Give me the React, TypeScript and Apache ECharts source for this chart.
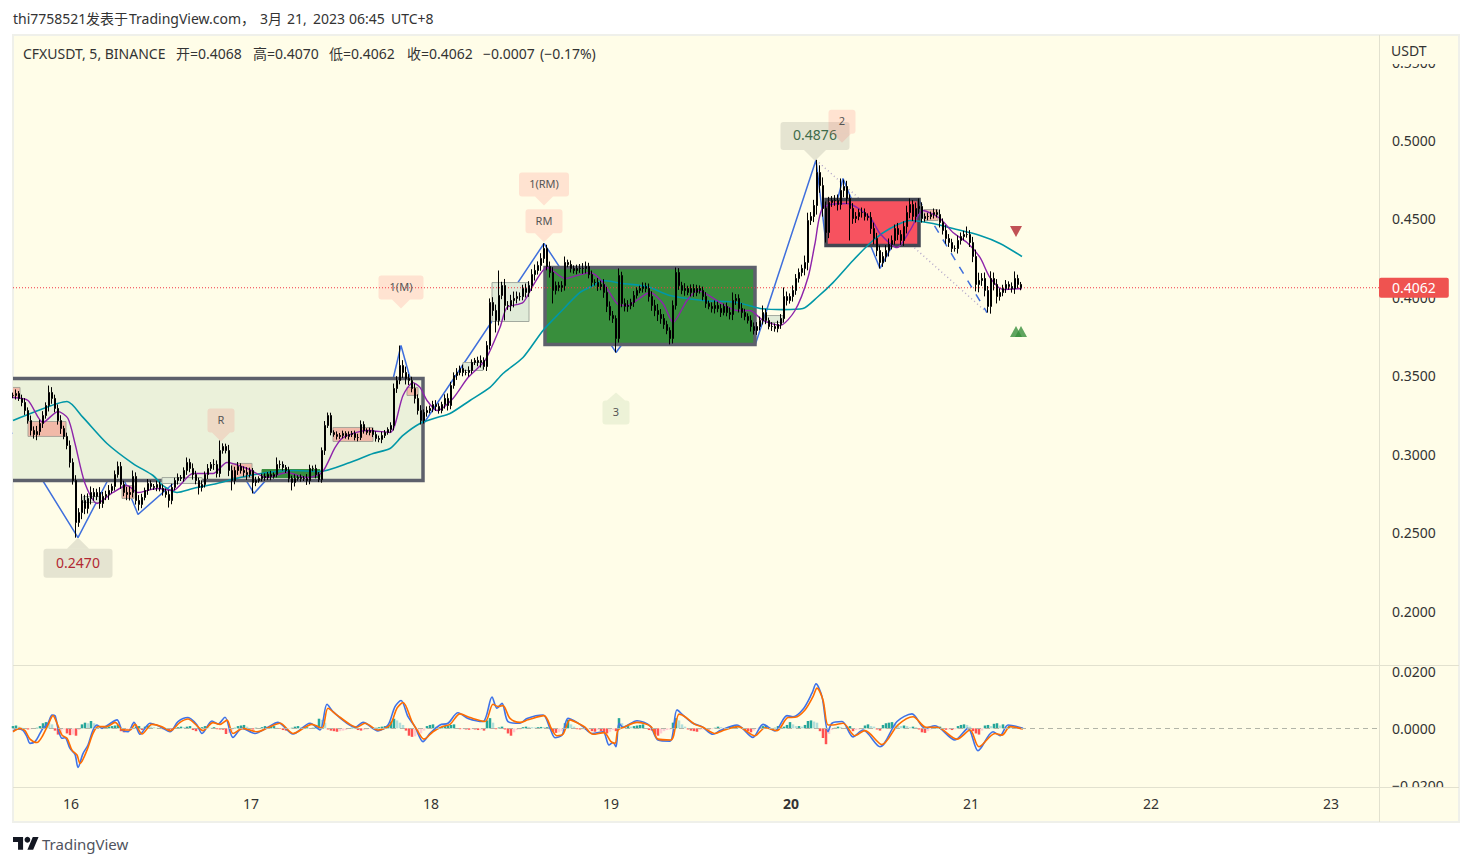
import React, { useEffect, useRef } from "react";
import * as echarts from "echarts";

// time axis: t counts 8-minute steps from the left edge of the chart
const dayTicks = [58, 238, 418, 598, 778, 958, 1138, 1318];
const dayLabels = ["16", "17", "18", "19", "20", "21", "22", "23"];
const priceTicks = [0.2, 0.25, 0.3, 0.35, 0.4, 0.45, 0.5, 0.55];
const macdTicks = [-0.02, 0, 0.02];
const lastPrice = 0.4062;
const lastPriceLine = [[0,4062],[1366,4062]];

// closes in 1/10000 USDT, one every 3 time steps
const closes = [
  3376,3388,3357,3331,3280,3216,3153,3127,3146,3197,
  3248,3312,3395,3357,3293,3216,3165,3115,3057,2949,
  2834,2567,2630,2707,2656,2720,2758,2733,2758,2688,
  2733,2745,2771,2796,2872,2924,2809,2758,2745,2758,
  2860,2707,2682,2726,2771,2815,2796,2790,2809,2783,
  2764,2745,2707,2790,2834,2853,2847,2898,2949,2911,
  2872,2834,2790,2809,2872,2911,2936,2936,2879,3025,
  3051,3025,2898,2834,2898,2924,2898,2885,2872,2898,
  2822,2834,2847,2860,2853,2872,2860,2872,2936,2936,
  2917,2898,2847,2822,2847,2853,2847,2847,2834,2911,
  2911,2872,2840,3025,3185,3248,3140,3127,3115,3121,
  3134,3115,3127,3134,3108,3108,3191,3153,3140,3153,
  3127,3102,3096,3121,3140,3159,3185,3420,3471,3567,
  3522,3484,3471,3420,3357,3280,3217,3267,3280,3293,
  3318,3306,3280,3318,3357,3312,3439,3503,3522,3548,
  3522,3522,3535,3586,3599,3586,3599,3560,3694,3968,
  3917,3854,4013,4076,3949,3949,3981,3994,4006,4006,
  4057,4032,4076,4146,4172,4204,4248,4312,4197,4159,
  4045,4076,4064,4076,4223,4210,4185,4172,4185,4185,
  4185,4197,4146,4096,4096,4070,4083,4032,3943,3886,
  3866,3739,4140,3962,3943,3949,3968,4013,4045,4057,
  4070,4057,4006,3949,3917,3892,3866,3828,3790,3739,
  3949,4159,4076,4045,4057,4032,4057,4032,4057,4045,
  4006,3962,3943,3930,3949,3930,3904,3943,3904,3892,
  3981,3994,3930,3904,3879,3854,3815,3790,3815,3854,
  3904,3854,3815,3815,3802,3828,3866,4006,3981,4006,
  4045,4121,4159,4185,4223,4490,4516,4586,4796,4713,
  4567,4414,4605,4618,4618,4592,4682,4707,4631,4567,
  4503,4516,4541,4541,4516,4510,4439,4376,4299,4223,
  4261,4299,4338,4363,4439,4401,4363,4452,4541,4592,
  4516,4567,4580,4503,4516,4516,4529,4541,4529,4478,
  4427,4376,4350,4312,4312,4363,4388,4401,4401,4350,
  4261,4083,4108,4121,4045,3943,4121,4083,4006,4032,
  4057,4083,4070,4057,4121,4083,4062,
];
const wicks = [
  18,26,16,24,28,20,32,26,36,24,
  28,20,38,34,24,26,34,18,24,32,
  26,34,28,42,36,32,38,28,24,34,
  28,24,34,18,26,20,28,24,36,38,
  32,26,34,24,18,28,20,16,24,18,
  26,20,28,24,18,26,16,20,28,24,
  32,24,18,26,20,28,16,34,26,24,
  20,18,36,32,24,28,20,26,34,18,
  16,24,14,18,20,16,24,14,18,26,
  20,16,24,18,26,14,20,16,28,24,
  18,24,16,20,28,16,18,14,20,16,
  18,14,20,16,18,24,16,20,14,18,
  16,20,18,24,16,14,20,32,28,24,
  34,38,28,24,32,26,34,20,26,18,
  24,28,20,18,26,32,24,20,28,18,
  24,18,26,20,16,24,32,20,28,26,
  34,38,32,24,42,28,36,44,32,26,
  24,32,28,34,38,26,34,28,24,32,
  34,26,24,28,32,18,26,20,24,28,
  34,32,24,26,20,28,24,34,36,32,
  28,20,26,24,32,34,24,28,20,18,
  26,24,32,34,36,42,34,28,24,20,
  32,26,28,24,34,18,26,28,24,20,
  24,28,18,26,32,24,28,18,24,32,
  36,28,26,34,24,20,32,26,28,24,
  26,24,18,28,20,24,28,26,32,20,
  32,28,26,24,44,50,28,36,58,46,
  52,44,36,28,34,38,32,44,36,26,
  34,28,24,32,26,20,34,38,36,32,
  28,34,38,32,26,36,28,34,44,36,
  28,38,34,26,20,24,18,26,20,32,
  26,34,28,24,20,32,26,24,20,28,
  36,44,50,34,38,28,46,38,34,26,
  24,28,20,26,34,24,16,
];
const highSpikes = [
  [12,3439],[35,2955],[40,2898],[58,2981],[69,3089],[88,2981],[105,3267],[116,3217],
  [129,3694],[162,4172],[177,4345],[184,4261],[202,4185],[221,4191],[240,4032],[250,3949],
  [257,4064],[268,4876],[276,4758],[299,4631],[302,4631],[318,4452],[334,4166],
];
const lowSpikes = [
  [21,2470],[42,2643],[52,2662],[62,2745],[73,2771],[80,2752],[93,2771],[136,3191],
  [161,3777],[164,3854],[180,3962],[201,3650],[219,3701],[271,4350],[279,4363],[289,4185],
  [325,3904],[328,3962],
];

const tealLine = [
  [0,3216],[20,3267],[54,3337],[70,3236],[94,3070],[120,2942],[140,2866],[150,2802],[164,2758],[180,2783],
  [204,2815],[227,2853],[254,2885],[280,2898],[307,2892],[337,2949],[360,3006],[377,3038],[390,3121],[407,3197],
  [424,3235],[437,3261],[457,3344],[477,3427],[490,3516],[510,3618],[530,3790],[547,3904],[567,4032],[580,4076],
  [590,4108],[610,4089],[634,4070],[657,4013],[690,3981],[724,3968],[747,3930],[770,3923],[790,3930],[804,4000],
  [820,4095],[840,4236],[860,4363],[877,4439],[897,4490],[920,4471],[940,4439],[967,4395],[987,4344],[1009,4261],
];
const purpleLine = [
  [0,3363],[15,3344],[30,3204],[45,3274],[55,3229],[62,3070],[72,2815],[84,2688],[100,2758],[114,2802],
  [125,2758],[144,2783],[160,2771],[180,2879],[200,2879],[214,2949],[234,2911],[254,2853],[274,2885],[294,2853],
  [309,2885],[322,3044],[330,3108],[354,3153],[377,3140],[390,3376],[400,3458],[407,3427],[414,3344],[424,3280],
  [440,3357],[455,3490],[472,3599],[487,3809],[494,3936],[510,3968],[520,4076],[534,4191],[552,4121],[564,4140],
  [577,4159],[590,4096],[604,3962],[614,3949],[637,4032],[650,3962],[660,3841],[674,3981],[685,4045],[707,3968],
  [724,3917],[737,3917],[750,3854],[767,3822],[782,3917],[795,4127],[802,4344],[810,4573],[834,4599],[857,4510],
  [867,4408],[884,4318],[897,4427],[910,4554],[927,4503],[940,4414],[954,4350],[967,4255],[977,4127],[990,4051],[1009,4057],
];
const zigzagLine = [
  [0,3140],[65,2470],[104,2949],[125,2618],[209,3089],[241,2752],[314,3267],[365,3076],[388,3694],[410,3191],
  [531,4344],[603,3650],[663,4172],[742,3694],[803,4876],[813,4344],[830,4758],[867,4185],[905,4631],
];
const dashedLeg = [[905,4631],[974,3904]];
const dottedLeg = [[803,4876],[974,3904]];

// t start, t end, top price, bottom price, kind
const bigBoxes = [[-8,410,3484,2834,0],[532,742,4191,3701,1],[813,906,4624,4331,2]];
const paleRedBoxes = [
  [-8,7,3427,3363,3],[15,53,3210,3115,3],[109,121,2802,2720,3],[219,239,2943,2853,3],
  [320,360,3172,3083,3],[394,405,3427,3376,3],[911,925,4560,4490,3],
];
const paleGreenBoxes = [
  [70,87,2732,2694,4],[149,189,2853,2815,4],[479,516,4095,3847,4],[450,470,3586,3535,4],[752,770,3885,3841,4],
];
const solidGreenBoxes = [[249,307,2904,2853,5]];

const calloutTexts = ["0.4876", "2", "0.2470", "R", "RM", "1(RM)", "1(M)", "3"];
// t, price at the tip, index of the text and of the look
const callouts = [[802,4870,0,0],[829,4985,1,2],[65,2470,2,1],[208,3083,3,2],[531,4352,4,2],[531,4586,5,2],[388,3930,6,2],[603,3395,7,3]];

const sellSignals = [[1003,4420]];
const buySignals = [[1003,3783],[1008,3783]];

const macdBlue = [
  [0,-9],[5,-2],[10,-7],[14,-30],[17,-53],[22,-47],[27,-18],[30,0],[35,18],[39,47],[42,45],[45,0],[49,-35],[52,-33],[57,-71],[62,-92],[65,-138],[70,-89],[75,-59],[80,-6],
  [84,12],[89,0],[95,12],[104,30],[109,-6],[115,-12],[121,21],[127,-21],[137,18],[147,6],[157,-12],[165,24],[175,38],[184,12],[189,-18],[199,26],[205,15],[212,39],[220,-32],[229,0],
  [242,-18],[254,2],[265,21],[280,-20],[297,18],[307,-6],[314,85],[320,59],[334,18],[342,4],[350,21],[365,-9],[375,12],[382,77],[388,98],[395,41],[402,6],[410,-47],[417,-18],[427,12],
  [435,18],[445,55],[455,35],[470,24],[479,110],[484,71],[489,88],[495,24],[507,18],[514,35],[530,47],[537,0],[542,-33],[549,-24],[555,35],[564,21],[570,6],[579,-18],[590,-12],[596,-59],
  [600,-50],[603,-65],[606,18],[610,4],[624,27],[637,9],[645,-41],[657,-45],[664,65],[670,47],[680,18],[689,6],[700,-21],[707,-8],[724,12],[740,-32],[750,14],[762,-9],[774,45],[780,41],
  [790,67],[799,124],[803,157],[809,112],[815,-12],[819,18],[829,24],[840,-30],[850,-6],[867,-65],[884,24],[899,51],[912,0],[922,9],[942,-41],[955,0],[965,-79],[980,-12],[987,-26],[995,12],[1010,0],
];
const macdOrange = [
  [0,-12],[7,0],[12,-8],[17,-38],[24,-50],[29,-30],[35,12],[40,45],[44,18],[49,-24],[54,-35],[59,-77],[64,-94],[67,-124],[74,-77],[80,-18],[85,6],[94,6],[102,21],[110,-6],
  [117,-6],[122,14],[129,-20],[139,14],[149,6],[157,-9],[167,21],[175,33],[184,9],[190,-8],[200,20],[207,14],[214,29],[220,-18],[230,0],[244,-12],[255,2],[267,18],[280,-18],[299,14],
  [309,0],[315,71],[324,47],[337,14],[344,4],[352,18],[365,-6],[377,12],[384,71],[390,91],[399,24],[404,-6],[411,-38],[420,-12],[429,6],[437,14],[447,51],[457,38],[472,24],[480,85],
  [485,77],[490,80],[497,35],[507,21],[515,30],[531,45],[539,-6],[544,-26],[550,-21],[557,30],[565,18],[572,4],[580,-21],[591,-15],[598,-47],[602,-53],[605,-6],[611,4],[624,21],[638,6],
  [645,-38],[658,-41],[666,50],[672,41],[682,14],[690,4],[702,-18],[709,-9],[725,6],[742,-26],[752,2],[764,-8],[775,38],[782,39],[792,65],[800,112],[804,142],[810,100],[815,12],[820,12],
  [830,18],[842,-26],[852,-8],[869,-57],[885,12],[900,41],[913,4],[924,4],[944,-38],[957,-6],[966,-65],[982,-18],[989,-24],[997,6],[1010,-2],
];
// histogram in 1/10000, one every 3 time steps
const macdHist = [
  8,10,6,2,-2,-4,-3,-1,2,8,
  18,22,20,14,-8,-22,-20,-4,-18,-24,
  -22,-26,-6,14,20,18,26,18,10,4,
  -1,4,6,8,10,12,-10,-14,-12,-8,
  -3,6,8,-6,6,10,6,4,2,1,
  -3,-4,-6,-8,-2,4,6,4,6,8,
  -6,-10,-6,4,8,6,2,4,-3,-4,
  -5,-20,-16,-8,2,8,10,12,6,-2,
  -4,2,-2,4,8,4,6,8,2,-2,
  -6,-8,-3,2,6,8,4,2,4,-2,
  2,12,34,30,20,-4,-8,-10,-12,-10,
  -8,-6,-2,2,4,-6,-8,-6,-4,-2,
  2,2,4,6,8,10,24,34,28,20,
  12,-8,-26,-30,-28,-22,-18,-8,8,12,
  14,6,-2,4,8,10,12,14,-2,-3,
  -3,-4,-5,-3,-4,-6,-5,-8,28,36,
  20,-3,3,6,-4,-18,-26,-14,-6,-4,
  4,6,5,4,3,4,5,4,4,5,
  -12,-16,-14,-10,18,30,14,6,-3,-4,
  -3,-5,-4,-10,-12,-6,-10,-14,-18,-12,
  -6,-10,36,18,8,8,6,8,10,12,
  14,-2,-6,-8,-22,-26,-18,-10,-6,-4,
  20,36,28,14,6,-4,-8,-10,-12,-6,
  -4,-2,-4,-3,2,6,4,-2,2,6,
  8,10,6,2,-6,-10,-14,-8,-2,4,
  8,12,4,-2,2,8,4,6,12,22,
  14,8,8,6,12,26,28,24,20,-10,
  -34,-56,-20,-6,2,6,4,-2,4,8,
  -10,-6,-4,-2,10,14,8,6,-4,-8,
  12,18,20,22,16,10,8,10,8,4,
  6,4,-4,-14,-16,-10,-4,2,4,6,
  -3,-5,-4,-6,-3,8,12,14,12,6,
  -10,-18,-22,-8,10,12,8,16,18,10,
  14,6,8,4,6,-2,-3,
];

const FONT = '"Noto Sans","Noto Sans CJK SC",sans-serif';
const INK = "#333333";
const PANEL = "#fffde8";
const EDGE = "#e2e1cf";

const boxLooks = [
  { fill: "#ebf1da", stroke: "#5d606b", lineWidth: 3.5 },
  { fill: "#388e3c", stroke: "#5d606b", lineWidth: 3.5 },
  { fill: "#f7525f", stroke: "#434651", lineWidth: 3.5 },
  { fill: "#f1b9a8", stroke: "#a8a59a", lineWidth: 1 },
  { fill: "#e0ebd8", stroke: "#a3aa9f", lineWidth: 1 },
  { fill: "#388e3c", stroke: "#388e3c", lineWidth: 1 },
];
const calloutLooks = [
  { w: 69, h: 28, gap: 11, dir: -1, fill: "rgba(208,208,190,0.55)", color: "#3e6b4a", size: 14, pw: 11 },
  { w: 69, h: 29, gap: 11, dir: 1, fill: "rgba(208,208,190,0.55)", color: "#b22833", size: 14, pw: 11 },
  { w: 27, h: 24, gap: 9, dir: -1, fill: "rgba(255,82,82,0.15)", color: "#555555", size: 11, pw: 9 },
  { w: 27, h: 24, gap: 8, dir: 1, fill: "rgba(76,150,70,0.1)", color: "#555555", size: 11, pw: 9 },
];
const calloutWidths: Record<string, number> = { "RM": 37, "1(RM)": 50, "1(M)": 45 };

const px = (rows: number[][]) => rows.map((r) => [r[0], r[1] / 10000]);

function buildCandles() {
  const hi = new Map(highSpikes.map((s) => [s[0], s[1]]));
  const lo = new Map(lowSpikes.map((s) => [s[0], s[1]]));
  return closes.map((c, i) => {
    const o = i === 0 ? c : closes[i - 1];
    const w = wicks[i] ?? 18;
    const h = hi.get(i) ?? Math.max(o, c) + w;
    const l = lo.get(i) ?? Math.min(o, c) - w;
    return [i * 3, o / 10000, c / 10000, l / 10000, h / 10000];
  });
}

function histData() {
  return macdHist.map((v, i) => {
    const prev = i === 0 ? 0 : macdHist[i - 1];
    const rising = v >= prev;
    const color = v >= 0 ? (rising ? "#26a69a" : "#b2dfdb") : rising ? "#ffcdd2" : "#ff5252";
    return { value: [i * 3, v / 10000], itemStyle: { color } };
  });
}

function renderBox(_p: any, api: any) {
  const a = api.coord([api.value(0), api.value(2) / 10000]);
  const b = api.coord([api.value(1), api.value(3) / 10000]);
  const look = boxLooks[api.value(4)];
  return { type: "rect", shape: { x: a[0], y: a[1], width: b[0] - a[0], height: b[1] - a[1] }, style: { ...look } };
}

function renderCallout(_p: any, api: any) {
  const tip = api.coord([api.value(0), api.value(1) / 10000]);
  const text = calloutTexts[api.value(2)];
  const look = calloutLooks[api.value(3)];
  const w = calloutWidths[text] ?? look.w;
  const edge = tip[1] + look.dir * look.gap;
  const top = look.dir > 0 ? edge : edge - look.h;
  return {
    type: "group",
    children: [
      { type: "polygon", shape: { points: [[tip[0], tip[1]], [tip[0] - look.pw, edge], [tip[0] + look.pw, edge]] }, style: { fill: look.fill } },
      { type: "rect", shape: { x: tip[0] - w / 2, y: top, width: w, height: look.h, r: 3 }, style: { fill: look.fill } },
      { type: "text", style: { x: tip[0], y: top + look.h / 2 - 1, text, fill: look.color, fontSize: look.size, fontFamily: FONT, align: "center", verticalAlign: "middle" } },
    ],
  };
}

const lineBase = { type: "line", showSymbol: false, symbol: "none", silent: true, xAxisIndex: 0, yAxisIndex: 0 };
const customBase = { type: "custom", silent: true, clip: true, xAxisIndex: 0, yAxisIndex: 0 };
const boxEncode = { x: [0, 1], y: [2, 3] };

function buildOption() {
  const text = (x: number, y: number, t: string, size = 14, fill = INK) => ({
    type: "text", x, y, z: 60, silent: true,
    style: { text: t, fill, fontSize: size, fontFamily: FONT, verticalAlign: "middle" },
  });
  return {
    animation: false,
    backgroundColor: "#ffffff",
    grid: [
      { left: 13, top: 35, width: 1366, height: 630 },
      { left: 13, top: 666, width: 1366, height: 121 },
    ],
    xAxis: [
      { type: "value", gridIndex: 0, min: 0, max: 1366, show: false },
      {
        type: "value", gridIndex: 1, min: 0, max: 1366, splitLine: { show: false },
        axisLine: { show: false }, axisTick: { show: false },
        axisLabel: {
          customValues: dayTicks, margin: 9, color: INK, fontSize: 14, fontFamily: FONT,
          formatter: (v: number) => {
            const s = dayLabels[dayTicks.indexOf(v)];
            return s === "20" ? "{b|" + s + "}" : s;
          },
          rich: { b: { fontWeight: "bold", color: INK, fontSize: 14, fontFamily: FONT } },
        },
      },
    ],
    yAxis: [
      {
        type: "value", gridIndex: 0, position: "right", min: 0.1659, max: 0.5672, splitLine: { show: false },
        axisLine: { show: false }, axisTick: { show: false },
        axisLabel: { customValues: priceTicks, margin: 13, color: INK, fontSize: 14, fontFamily: FONT, formatter: (v: number) => v.toFixed(4) },
      },
      {
        type: "value", gridIndex: 1, position: "right", min: -0.0207, max: 0.022, splitLine: { show: false },
        axisLine: { show: false }, axisTick: { show: false },
        axisLabel: { customValues: macdTicks, margin: 13, color: INK, fontSize: 14, fontFamily: FONT, formatter: (v: number) => (v < 0 ? "\u2212" + (-v).toFixed(4) : v.toFixed(4)) },
      },
    ],
    series: [
      { ...lineBase, z: 1, data: px(zigzagLine), lineStyle: { color: "#3f6fdc", width: 1.5 } },
      { ...lineBase, z: 1, data: px(dottedLeg), lineStyle: { color: "#b3a7c9", width: 1.5, type: [1, 3] } },
      { ...lineBase, z: 1, data: px(dashedLeg), lineStyle: { color: "#3f6fdc", width: 1.5, type: [8, 8] } },
      { ...customBase, z: 2, renderItem: renderBox, encode: boxEncode, data: [...bigBoxes, ...paleRedBoxes, ...paleGreenBoxes, ...solidGreenBoxes] },
      { ...lineBase, z: 3, smooth: 0.25, data: px(tealLine), lineStyle: { color: "#0097a7", width: 1.6 } },
      { ...lineBase, z: 3, smooth: 0.25, data: px(purpleLine), lineStyle: { color: "#8e24aa", width: 1.4 } },
      {
        ...lineBase, z: 3, data: px(lastPriceLine),
        lineStyle: { color: "#f23645", type: [1, 2], width: 1 },
        endLabel: {
          show: true, distance: 0, formatter: () => lastPrice.toFixed(4), color: "#fff", fontSize: 14, fontFamily: FONT,
          backgroundColor: "#ef5350", padding: [3, 13, 3, 13], borderRadius: 2,
        },
      },
      {
        type: "candlestick", z: 4, silent: true, xAxisIndex: 0, yAxisIndex: 0, barWidth: 1.5,
        itemStyle: { color: "#000", color0: "#000", borderColor: "#000", borderColor0: "#000", borderWidth: 1 },
        encode: { x: 0, y: [1, 2, 3, 4] },
        data: buildCandles(),
      },
      { ...customBase, z: 5, renderItem: renderCallout, encode: { x: 0, y: 1 }, data: callouts },
      {
        type: "scatter", z: 5, silent: true, xAxisIndex: 0, yAxisIndex: 0, symbol: "triangle", symbolSize: [12, 11], symbolRotate: 180,
        itemStyle: { color: "#b2252f" }, data: px(sellSignals),
      },
      {
        type: "scatter", z: 5, silent: true, xAxisIndex: 0, yAxisIndex: 0, symbol: "triangle", symbolSize: [12, 11],
        itemStyle: { color: "#388e3c" }, data: px(buySignals),
      },
      {
        type: "bar", z: 2, silent: true, xAxisIndex: 1, yAxisIndex: 1, barWidth: 2.5, data: histData(),
        markLine: { silent: true, symbol: "none", label: { show: false }, lineStyle: { color: "#b2b5a8", type: [5, 4], width: 1 }, data: [{ yAxis: 0 }] },
      },
      { ...lineBase, z: 3, smooth: 0.3, xAxisIndex: 1, yAxisIndex: 1, data: px(macdBlue), lineStyle: { color: "#3f73e8", width: 1.6 } },
      { ...lineBase, z: 3, smooth: 0.3, xAxisIndex: 1, yAxisIndex: 1, data: px(macdOrange), lineStyle: { color: "#ff6d00", width: 1.6 } },
    ],
    graphic: [
      { type: "rect", z: -10, silent: true, shape: { x: 13, y: 35, width: 1446, height: 787 }, style: { fill: PANEL, stroke: "#eff0ea", lineWidth: 2 } },
      { type: "rect", z: 50, silent: true, shape: { x: 1380, y: 36, width: 78, height: 28 }, style: { fill: PANEL } },
      { type: "rect", z: 50, silent: true, shape: { x: 1380, y: 787.5, width: 78, height: 12 }, style: { fill: PANEL } },
      { type: "line", z: 55, silent: true, shape: { x1: 13, y1: 665.5, x2: 1459, y2: 665.5 }, style: { stroke: EDGE, lineWidth: 1 } },
      { type: "line", z: 55, silent: true, shape: { x1: 13, y1: 787.5, x2: 1459, y2: 787.5 }, style: { stroke: EDGE, lineWidth: 1 } },
      { type: "line", z: 3, silent: true, shape: { x1: 1379.5, y1: 35, x2: 1379.5, y2: 822 }, style: { stroke: EDGE, lineWidth: 1 } },
      text(1391, 50, "USDT"),
      text(13, 18.5, "thi7758521"),
      text(86, 18.5, "发表于"),
      text(129, 18.5, "TradingView.com，"),
      text(260, 18.5, "3月"),
      text(287, 18.5, "21,"),
      text(313, 18.5, "2023"),
      text(349, 18.5, "06:45"),
      text(391, 18.5, "UTC+8"),
      text(23, 53, "CFXUSDT, 5, BINANCE"),
      text(176, 53, "开=0.4068"),
      text(253, 53, "高=0.4070"),
      text(329, 53, "低=0.4062"),
      text(407, 53, "收=0.4062"),
      text(483, 53, "\u22120.0007"),
      text(540, 53, "(\u22120.17%)"),
      { type: "tvLogo", x: 13, y: 834, scaleX: 0.72, scaleY: 0.72, z: 60, silent: true, style: { fill: "#131722" } },
      { type: "circle", z: 60, silent: true, shape: { cx: 13 + 20 * 0.72, cy: 834 + 8 * 0.72, r: 4 * 0.72 }, style: { fill: "#131722" } },
      text(42, 844, "TradingView", 15, "#50535e"),
    ],
  };
}

echarts.graphic.registerShape(
  "tvLogo",
  echarts.graphic.extendPath("M14 22H7V11H0V4h14v18zM28 22h-8l7.5-18h8L28 22z", {}) as any,
);

export default function App() {
  const ref = useRef<HTMLDivElement>(null);
  useEffect(() => {
    const chart = echarts.init(ref.current!, undefined, { renderer: "svg" });
    chart.setOption(buildOption() as any);
    return () => chart.dispose();
  }, []);
  return <div ref={ref} style={{ position: "fixed", left: 0, top: 0, width: 1472, height: 866 }} />;
}
